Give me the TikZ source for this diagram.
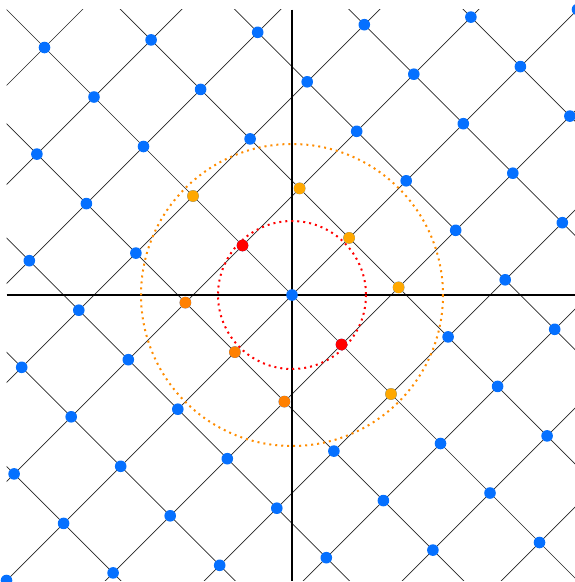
\documentclass[tikz,border=0pt]{standalone}
\definecolor{latblue}{RGB}{5,112,255}
\definecolor{amber}{RGB}{255,168,0}
\definecolor{dorange}{RGB}{255,128,0}
\definecolor{circorange}{RGB}{255,140,0}
\tikzset{
  latline/.style={line width=0.7pt,black!85},
  axisline/.style={line width=1.4pt,black},
  ring/.style={line width=2pt,dash pattern=on 2pt off 4pt},
  bluedot/.style={fill=latblue},
}
\begin{document}
\begin{tikzpicture}[x=1pt,y=-1pt]
\useasboundingbox (0,0) rectangle (575,582);
\clip (0,0) rectangle (575,582);
\coordinate (O) at (292,295);
\coordinate (xl) at (6.5,295);
\coordinate (xr) at (577.5,295);
\coordinate (yt) at (292,9.5);
\coordinate (yb) at (292,580.5);
\begin{scope}
  \clip (6.5,9.5) rectangle (577.5,580.5);
  \foreach \m in {-7,...,7} {
    \draw[latline] (292+57.1*\m-600, 295-57.1*\m-600) -- ++(1200,1200);
  }
  \foreach \n in {-7,...,7} {
    \draw[latline] (292-49.5*\n-600, 295-49.5*\n+600) -- ++(1200,-1200);
  }
\end{scope}
\draw[axisline] (xl) -- (xr);
\draw[axisline] (yt) -- (yb);
\draw[ring,red] (O) circle (74);
\draw[ring,circorange] (O) circle (151);
\foreach \n in {-12,...,12} {
  \foreach \m in {-12,...,12} {
    \pgfmathsetmacro\px{292-49.5*\n+57.1*\m}
    \pgfmathsetmacro\py{295-49.5*\n-57.1*\m}
    \pgfmathtruncatemacro\ok{(\px>5.5)&&(\px<578.5)&&(\py>8.5)&&(\py<581.5)}
    \ifnum\ok=1 \fill[bluedot] (\px,\py) circle (5.8); \fi
  }
}
% shortest vectors (red)
\fill[red] (292-49.5,295-49.5) circle (5.8);
\fill[red] (292+49.5,295+49.5) circle (5.8);
% upper orange
\fill[amber] (292+57.1,295-57.1) circle (5.8);
\fill[amber] (292+57.1-49.5,295-57.1-49.5) circle (5.8);
\fill[amber] (292+57.1+49.5,295-57.1+49.5) circle (5.8);
\fill[amber] (292-99,295-99) circle (5.8);
\fill[amber] (292+99,295+99) circle (5.8);
% lower orange
\fill[dorange] (292-57.1,295+57.1) circle (5.8);
\fill[dorange] (292-57.1+49.5,295+57.1+49.5) circle (5.8);
\fill[dorange] (292-57.1-49.5,295+57.1-49.5) circle (5.8);
\end{tikzpicture}
\end{document}
